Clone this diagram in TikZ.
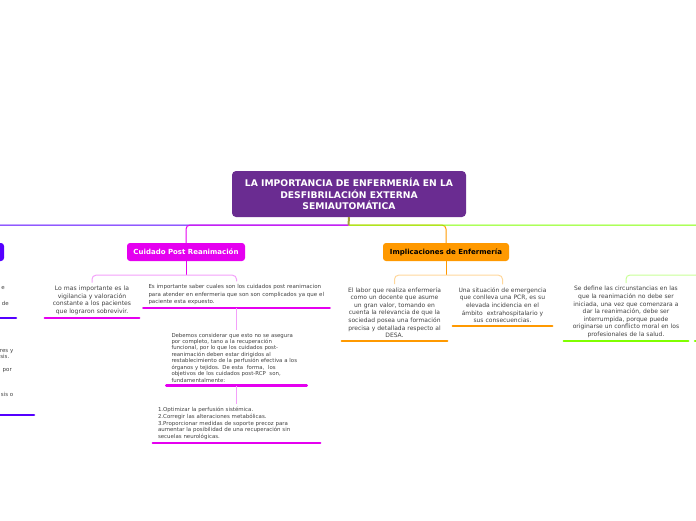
\documentclass[tikz,border=0pt]{standalone}
\usepackage{fontspec}
\setmainfont{DejaVu Sans}
\definecolor{rootpurple}{RGB}{106,44,145}
\definecolor{stemolive}{RGB}{165,163,55}
\definecolor{branchblue}{RGB}{85,0,255}
\definecolor{branchmag}{RGB}{229,0,240}
\definecolor{branchorange}{RGB}{255,153,0}
\definecolor{branchgreen}{RGB}{128,255,0}
\definecolor{softmag}{RGB}{243,160,250}
\definecolor{softorange}{RGB}{255,215,155}
\definecolor{softgreen}{RGB}{200,255,150}
\definecolor{notegray}{RGB}{65,65,65}
\tikzset{
  topic/.style={rounded corners=3pt, minimum height=18pt, inner sep=0pt, font=\bfseries\fontsize{7}{8}\selectfont},
  note/.style={text=notegray, inner xsep=5pt, inner ysep=3pt, anchor=south, font=\fontsize{6}{7.6}\selectfont, align=center},
  smallnote/.style={note, align=left, font=\fontsize{5.5}{7.5}\selectfont},
  uline/.style={line width=2.6pt, line cap=round},
  branch/.style={line width=1pt, rounded corners=4pt},
  frag/.style={text=notegray, anchor=base east, inner sep=0pt, font=\fontsize{5.5}{6}\selectfont},
}

\begin{document}
\begin{tikzpicture}[x=1pt,y=-1pt]
			%%%%% START %%%%%
			\useasboundingbox (0,0) rectangle (696,520);
			\clip (0,0) rectangle (696,520);
			
			\node[fill=rootpurple, text=white, rounded corners=4pt, minimum width=234pt, minimum height=46pt, align=center, font=\bfseries\fontsize{9.2}{11.6}\selectfont] (root) at (349,194) {LA IMPORTANCIA DE ENFERMERÍA EN LA\\DESFIBRILACIÓN EXTERNA\\SEMIAUTOMÁTICA};
			
			\node[topic, fill=branchblue, minimum width=60pt] (left) at (-26,252) {};
			\node[topic, fill=branchmag, text=white, minimum width=118pt] (cuidado) at (186,252) {Cuidado Post Reanimación};
			\node[topic, fill=branchorange, minimum width=126pt] (implic) at (446,252) {Implicaciones de Enfermería};
			\coordinate (rightbranch) at (760,243);
			\coordinate (hub) at (348.5,225);
			
			\draw[branch, branchblue] (hub) -| (left.north);
			\draw[branch, branchorange] (hub) -| (implic.north);
			\draw[branch, branchmag] (hub) -| (cuidado.north);
			\draw[branch, branchgreen] (hub) -| (rightbranch);
			\draw[line width=2pt, stemolive] (root.south) -- (hub);
			
			\node[note, text width=84pt, font=\fontsize{6.1}{7.7}\selectfont] (vigilancia) at (92,318) {Lo mas importante es la\\vigilancia y valoración\\constante a los pacientes\\que lograron sobrevivir.};
			\node[smallnote, text width=176pt] (saber) at (236.5,308) {Es importante saber cuales son los cuidados post reanimacion\\para atender en enfermeria que son son complicados ya que el\\paciente esta expuesto.};
			\node[smallnote, text width=130pt, font=\fontsize{5.4}{6.45}\selectfont] (considerar) at (236.5,385.5) {Debemos considerar que esto no se asegura\\por completo, tano a la recuperación\\funcional, por lo que los cuidados post-\\reanimación deben estar dirigidos al\\restablecimiento de la perfusión efectiva a los\\órganos y tejidos. De esta\ \ forma,\ \ los\\objetivos de los cuidados post-RCP\ \ son,\\fundamentalmente:};
			\node[smallnote, text width=157pt, font=\fontsize{5.45}{6.8}\selectfont] (objetivos) at (236.5,443) {1.Optimizar la perfusión sistémica.\\2.Corregir las alteraciones metabólicas.\\3.Proporcionar medidas de soporte precoz para\\aumentar la posibilidad de una recuperación sin\\secuelas neurológicas.};
			\node[note, text width=95pt] (docente) at (394.5,341) {El labor que realiza enfermería\\como un docente que asume\\un gran valor, tomando en\\cuenta la relevancia de que la\\sociedad posea una formación\\precisa y detallada respecto al\\DESA.};
			\node[note, text width=89pt] (situacion) at (502.5,326) {Una situación de emergencia\\que conlleva una PCR, es su\\elevada incidencia en el\\ámbito\ \ extrahospitalario y\\sus consecuencias.};
			\node[note, text width=114pt] (circunstancias) at (626,341) {Se define las circunstancias en las\\que la reanimación no debe ser\\iniciada, una vez que comenzara a\\dar la reanimación, debe ser\\interrumpida, porque puede\\originarse un conflicto moral en los\\profesionales de la salud.};
			
			\foreach \n/\c in {vigilancia/branchmag, saber/branchmag, considerar/branchmag, objetivos/branchmag, docente/branchorange, situacion/branchorange, circunstancias/branchgreen}
				\draw[uline, \c] (\n.south west) -- (\n.south east);
			
			\draw[line width=1pt, branchmag] (cuidado.south) -- ++(0,14) coordinate (cuidadojoin);
			\draw[branch, softmag] (vigilancia.north) |- (cuidadojoin) -| (saber.north);
			\draw[line width=1pt, softmag] (saber.south) -- (considerar.north);
			\draw[line width=1pt, softmag] (considerar.south) -- (objetivos.north);
			
			\draw[line width=1pt, branchorange] (implic.south) -- ++(0,14) coordinate (implicjoin);
			\draw[branch, softorange] (docente.north) |- (implicjoin) -| (situacion.north);
			
			\coordinate (rightjoin) at (720,275);
			\draw[branch, softgreen] (circunstancias.north) |- (rightjoin);
			\coordinate (rightline) at (695,341);
			\draw[uline, branchgreen] (rightline) -- ++(40,0);
			
			% cut off on the left
			\coordinate (leftline1) at (16,318);
			\draw[uline, branchblue] (leftline1) -- ++(-40,0);
			\coordinate (leftline2) at (34,415);
			\draw[uline, branchblue] (leftline2) -- ++(-60,0);
			\node[frag] (frag1) at (5,289.5) {e};
			\node[frag] (frag2) at (9,305) {de};
			\node[frag] (frag3) at (13.5,352) {res y};
			\node[frag] (frag4) at (9.5,358) {sis.};
			\node[frag] (frag5) at (12,371.5) {por};
			\node[frag] (frag6) at (13.5,396) {sis o};
			
			%%%%% END %%%%%
\end{tikzpicture}
\end{document}
